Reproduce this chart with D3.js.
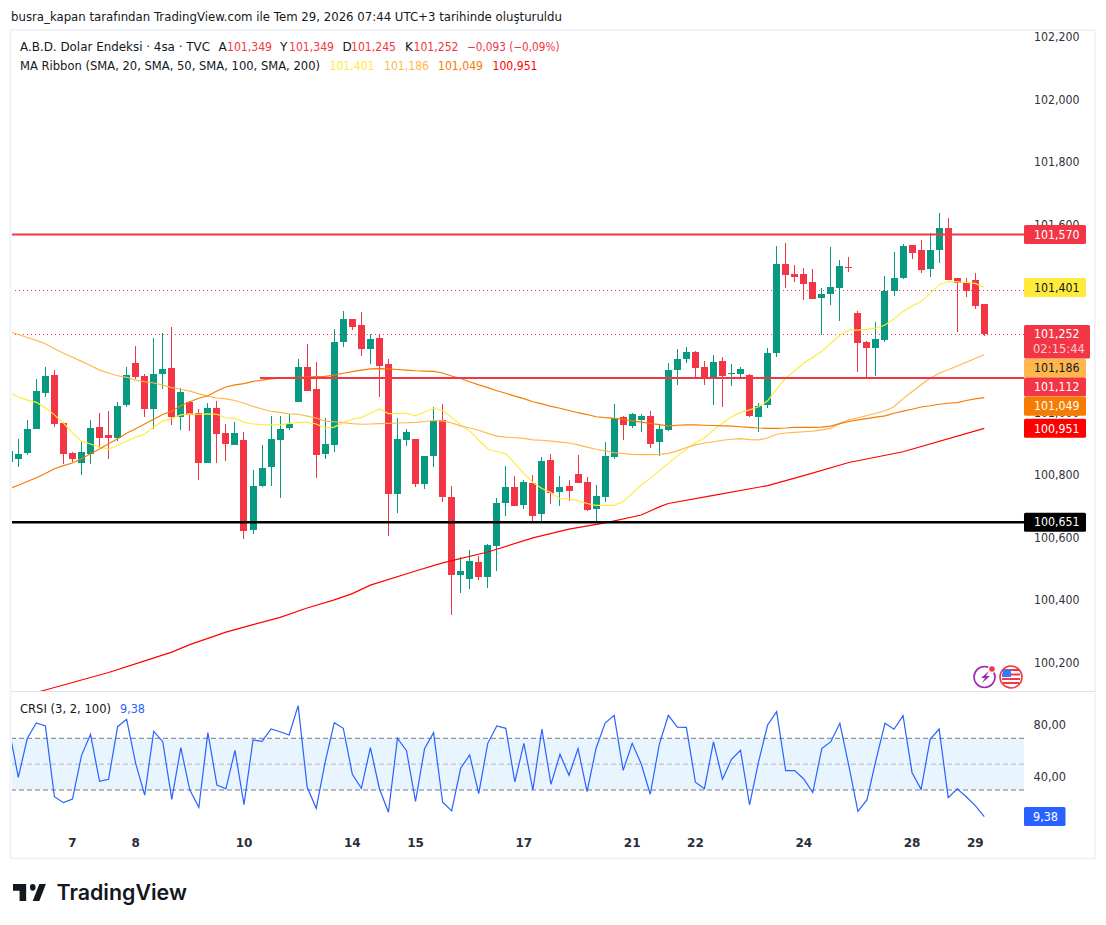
<!DOCTYPE html>
<html><head><meta charset="utf-8">
<script src="https://cdn.jsdelivr.net/npm/d3@7"></script>
<style>html,body{margin:0;padding:0;background:#fff}svg{display:block}text{font-family:"DejaVu Sans",sans-serif}</style>
</head><body><svg id="c" width="1106" height="925"></svg>
<script>
// Values are in thousandths of an index point (the axis prints 101,600 for 101.600)
const firstIndex=-1;
const opens=[100843,100853,100872,100949,101064,101121,100968,100872,100840,100869,100955,100930,100920,101025,101160,101118,101013,101125,101144,100987,101035,101000,100840,101016,100936,100898,100914,100626,100767,100827,100914,100952,101035,101147,101077,100869,100898,101227,101300,101281,101204,101240,101156,100741,100914,100917,100773,100863,100978,100732,100482,100470,100524,100476,100575,100712,100764,100706,100776,100677,100850,100748,100767,100805,100780,100693,100732,100859,100987,100958,100978,100990,100907,100946,101137,101173,101195,101147,101115,101166,101125,101125,101121,100987,101026,101192,101476,101444,101444,101419,101367,101380,101399,101467,101320,101227,101208,101233,101390,101431,101537,101521,101460,101521,101591,101431,101415,101425,101349];
const highs=[100885,100917,100978,101109,101147,101137,100971,100875,100907,100978,101000,101006,101035,101147,101214,101125,101240,101256,101275,101080,101038,101013,101032,101038,100965,100971,100939,100818,100898,100990,100990,100997,101172,101220,101163,100984,101268,101326,101300,101323,101252,101252,101172,100984,100949,100917,100863,101019,101029,100767,100540,100562,100543,100581,100728,100831,100799,100786,100802,100859,100869,100799,100786,100866,100795,100770,100907,101029,100990,101000,100997,101006,100962,101160,101205,101211,101198,101166,101185,101179,101157,101147,101125,101032,101208,101534,101543,101473,101463,101460,101399,101530,101489,101498,101326,101230,101291,101438,101514,101540,101537,101553,101575,101639,101623,101431,101431,101447,101349];
const lows=[100835,100827,100866,100949,101051,100955,100837,100842,100802,100837,100888,100853,100910,101019,101109,100987,100949,101077,100962,100946,100943,100786,100840,100840,100847,100898,100597,100613,100764,100767,100728,100946,101035,101070,100792,100853,100875,101211,101265,101182,101156,101051,100607,100680,100894,100764,100757,100827,100716,100355,100425,100438,100466,100441,100495,100671,100703,100693,100652,100648,100709,100703,100719,100776,100687,100652,100716,100853,100914,100952,100939,100888,100863,100943,101090,101160,101115,101090,101026,101019,101086,101109,100987,100939,101016,101179,101399,101419,101361,101364,101249,101345,101294,101451,101131,101115,101118,101227,101374,101428,101492,101447,101435,101479,101425,101259,101371,101332,101245];
const closes=[100879,100869,100949,101070,101118,100965,100869,100853,100875,100952,100920,100920,101022,101121,101115,101013,101125,101140,100987,101067,100994,100840,101016,100933,100901,100936,100623,100767,100824,100917,100949,100965,101147,101070,100866,100901,101227,101300,101275,101204,101236,101150,100741,100917,100939,100773,100863,100975,100732,100482,100495,100527,100476,100578,100712,100764,100703,100780,100671,100847,100744,100764,100751,100776,100690,100735,100863,100984,100962,100997,100990,100901,100949,101137,101173,101195,101144,101115,101163,101118,101128,101141,100990,101022,101192,101476,101441,101435,101412,101364,101380,101403,101470,101463,101224,101208,101236,101390,101431,101534,101511,101457,101521,101591,101425,101415,101390,101342,101252];
const ma20=[101065,101051,101041,101034,101017,100994,100968,100936,100910,100901,100891,100885,100896,100910,100923,100933,100955,100974,100982,100994,100997,100996,100997,100996,100984,100983,100970,100965,100963,100962,100962,100967,100970,100970,100965,100952,100955,100970,100980,100986,100999,101013,100998,100998,100999,100991,101003,101015,101008,100986,100962,100943,100913,100885,100877,100870,100839,100807,100778,100759,100746,100726,100726,100720,100711,100705,100705,100705,100717,100743,100770,100791,100816,100839,100863,100884,100905,100920,100946,100967,100988,101002,101010,101020,101039,101076,101111,101135,101159,101178,101197,101223,101249,101265,101265,101267,101271,101281,101300,101324,101342,101356,101382,101410,101421,101419,101417,101414,101401];
const ma50=[101261,101251,101241,101232,101221,101205,101191,101178,101165,101152,101137,101128,101119,101114,101105,101100,101096,101089,101081,101076,101070,101061,101054,101048,101045,101040,101031,101021,101013,101005,101002,100997,100996,100990,100984,100974,100972,100969,100966,100964,100965,100966,100967,100968,100969,100970,100973,100976,100975,100968,100959,100952,100945,100935,100926,100923,100921,100919,100914,100913,100910,100907,100904,100898,100891,100884,100879,100873,100870,100868,100867,100867,100868,100871,100879,100890,100898,100904,100908,100913,100916,100918,100915,100914,100920,100932,100936,100938,100940,100942,100946,100951,100967,100978,100985,100992,100999,101007,101020,101046,101068,101090,101111,101127,101138,101150,101162,101174,101186];
const ma100=[100758,100769,100781,100793,100807,100822,100832,100840,100854,100870,100885,100902,100918,100935,100950,100965,100980,100995,101006,101023,101036,101047,101055,101070,101083,101090,101094,101101,101105,101109,101111,101113,101114,101115,101116,101117,101121,101127,101132,101137,101141,101142,101141,101139,101137,101135,101134,101133,101128,101118,101110,101100,101090,101081,101071,101063,101054,101046,101036,101029,101021,101015,101008,101001,100995,100988,100985,100983,100980,100975,100971,100967,100963,100958,100961,100962,100962,100961,100960,100959,100958,100956,100954,100952,100951,100951,100952,100954,100954,100954,100955,100958,100966,100973,100978,100982,100987,100991,100999,101006,101012,101019,101023,101028,101031,101033,101040,101045,101049];
const ma200Index=[2,3,7,10,14,17,19,23,26,29,32,35,37,39,44,47,52,57,61,65,69,71,72,77,83,87,92,98,107];
const ma200=[100107,100115,100147,100171,100208,100236,100260,100300,100324,100347,100377,100403,100423,100450,100495,100521,100556,100601,100629,100649,100674,100700,100711,100737,100768,100800,100842,100876,100951];
const crsi=[76.4,39.8,70.0,81.8,79.5,24.8,20.2,23.0,56.6,73.1,36.7,38.3,79.0,84.7,50.6,26.1,75.4,67.4,22.8,62.8,30.0,16.6,74.4,33.9,31.0,60.7,18.7,68.7,67.7,77.2,75.1,72.6,95.3,32.1,15.8,52.0,82.1,77.7,42.2,31.3,62.8,31.0,12.8,70.0,60.4,21.2,62.0,74.4,20.5,13.8,46.8,57.1,27.2,66.1,79.5,77.7,36.2,66.1,30.0,77.2,34.4,57.6,41.4,62.0,28.7,62.3,81.8,87.8,45.2,66.1,50.1,26.7,65.3,87.8,78.7,78.5,36.0,31.0,67.2,38.3,53.7,60.7,18.4,52.0,80.3,90.6,45.0,45.0,38.5,28.0,62.0,67.4,81.6,48.6,13.5,22.3,53.2,81.6,77.0,87.5,43.4,30.5,69.2,77.2,24.1,31.0,24.8,17.9,9.38];
const priceTicks=[102200,102000,101800,101600,101000,100800,100600,100400,100200];
const crsiTicks=[80,40];
const crsiBands=[70,50,30];
const dateIndex=[6,13,25,37,44,56,68,75,87,99,106];
const dateLabels=["7","8","10","14","15","17","21","22","24","28","29"];
const ribbon=["101,401","101,186","101,049","100,951"];

const C={green:"#089981",red:"#F23645",y:"#FFEB3B",lo:"#FFB74D",o:"#F57C00",r:"#FF0000",blue:"#2962FF",text:"#131722",tick:"#2f333e",border:"#E0E3EB",frame:"#F0F3FA"};
const L=11,R=1024,RE=1095,T=31,PB=691,B=858;
const svg=d3.select("#c");
const fmt=d3.format(",");
const x=d3.scaleLinear().domain([firstIndex,107]).range([9.27,984.3]);
const y=d3.scaleLinear().domain([102000,100000]).range([100,726]);
const yc=d3.scaleLinear().domain([30,70]).range([790,738.3]);
// text squeezed to a width so it sits where the reference's wider-hinted font puts it
const txt=(p,xx,yy,s,w,c,o={})=>{const t=p.append("text").attr("x",xx).attr("y",yy).attr("font-size",o.size||12).attr("fill",c).text(s);
 if(w)t.attr("textLength",w).attr("lengthAdjust","spacingAndGlyphs");
 if(o.mid)t.attr("dy","0.35em");
 if(o.op)t.attr("fill-opacity",o.op);
 return t;};

// frame
svg.append("rect").attr("x",10.5).attr("y",30).attr("width",1084.5).attr("height",828.5).attr("fill","#fff").attr("stroke",C.frame).attr("stroke-width",2);
svg.append("line").attr("x1",L).attr("x2",RE).attr("y1",691.5).attr("y2",691.5).attr("stroke",C.border);
const defs=svg.append("defs");
defs.append("clipPath").attr("id","main").append("rect").attr("x",L+1).attr("y",T).attr("width",R-L-1).attr("height",PB-T);
defs.append("clipPath").attr("id","sub").append("rect").attr("x",L+1).attr("y",PB+1).attr("width",R-L-1).attr("height",B-PB-1);

// price axis labels (behind markers)
priceTicks.forEach(d=>txt(svg,1034,y(d)-.7,fmt(d),45.5,C.tick,{mid:1}));

const m=svg.append("g").attr("clip-path","url(#main)");
// dotted price lines
[101252,101392].forEach(v=>m.append("line").attr("x1",L).attr("x2",R).attr("y1",Math.round(y(v))+.5).attr("y2",Math.round(y(v))+.5)
 .attr("stroke",C.red).attr("stroke-width",1).attr("stroke-dasharray","1 3"));
// candles
const idx=d3.range(opens.length);
const g=m.append("g").attr("shape-rendering","crispEdges");
g.selectAll("rect.w").data(idx).join("rect").attr("class","w")
 .attr("x",i=>Math.floor(x(i+firstIndex))).attr("width",1)
 .attr("y",i=>y(highs[i])).attr("height",i=>y(lows[i])-y(highs[i]))
 .attr("fill",i=>closes[i]>=opens[i]?C.green:C.red);
g.selectAll("rect.b").data(idx).join("rect").attr("class","b")
 .attr("x",i=>Math.floor(x(i+firstIndex))-3).attr("width",7)
 .attr("y",i=>y(Math.max(opens[i],closes[i])))
 .attr("height",i=>Math.max(1,Math.abs(y(opens[i])-y(closes[i]))))
 .attr("fill",i=>closes[i]>=opens[i]?C.green:C.red);
// ribbons
const ln=d3.line().x(d=>x(d[0])).y(d=>y(d[1]));
const ser=a=>a.map((v,i)=>[i+firstIndex,v]);
[[ma20,C.y],[ma50,C.lo],[ma100,C.o]].forEach(([a,c])=>m.append("path").attr("d",ln(ser(a))).attr("fill","none").attr("stroke",c).attr("stroke-width",1.15));
m.append("path").attr("d",ln(ma200.map((v,i)=>[ma200Index[i],v]))).attr("fill","none").attr("stroke",C.r).attr("stroke-width",1.15);
// horizontal levels
m.append("line").attr("x1",L).attr("x2",R).attr("y1",y(101570)).attr("y2",y(101570)).attr("stroke",C.red).attr("stroke-width",2);
m.append("line").attr("x1",260).attr("x2",R).attr("y1",y(101112)).attr("y2",y(101112)).attr("stroke",C.red).attr("stroke-width",2);
m.append("line").attr("x1",L).attr("x2",R).attr("y1",y(100651)).attr("y2",y(100651)).attr("stroke","#000").attr("stroke-width",2.4);

// price markers
const marks=[[101570,"101,570",C.red,"#fff"],[101401,"101,401",C.y,C.text],[101186,"101,186",C.lo,C.text],[101112,"101,112",C.red,"#fff"],[101049,"101,049",C.o,"#fff"],[100951,"100,951",C.r,"#fff"],[100651,"100,651","#000","#fff"]];
marks.forEach(([v,t,bg,fg])=>{
 const cy=y(v)+(v===101186?13.5:v===101112?9:v===101049?8.5:0);
 svg.append("rect").attr("x",1024).attr("y",cy-9.5).attr("width",62).attr("height",19).attr("rx",1.5).attr("fill",bg);
 txt(svg,1034,cy,t,45.5,fg,{mid:1});
});
svg.append("rect").attr("x",1024).attr("y",325).attr("width",66).attr("height",33.5).attr("rx",1.5).attr("fill",C.red);
txt(svg,1034,334,fmt(closes[closes.length-1]),45.5,"#fff",{mid:1});
txt(svg,1033,348.5,"02:15:44",52,"#fff",{mid:1,op:.75});

// CRSI pane
const s=svg.append("g").attr("clip-path","url(#sub)");
s.append("rect").attr("x",L).attr("width",R-L).attr("y",yc(70)).attr("height",yc(30)-yc(70)).attr("fill","#2196F3").attr("fill-opacity",.1);
crsiBands.forEach(b=>s.append("line").attr("x1",L).attr("x2",R).attr("y1",yc(b)).attr("y2",yc(b)).attr("stroke","#787B86").attr("stroke-opacity",b===50?.5:1).attr("stroke-dasharray","5 3"));
s.append("path").attr("d",d3.line().x(d=>x(d[0])).y(d=>yc(d[1]))(ser(crsi))).attr("fill","none").attr("stroke",C.blue).attr("stroke-width",1.2);
crsiTicks.forEach(d=>txt(svg,1033.5,yc(d)-.6,d3.format(".2f")(d).replace(".",","),32.5,C.tick,{mid:1}));
svg.append("rect").attr("x",1024).attr("y",807).attr("width",41.5).attr("height",19).attr("rx",1.5).attr("fill",C.blue);
txt(svg,1033,816.5,String(crsi[crsi.length-1]).replace(".",","),25,"#fff",{mid:1});

// time axis
svg.append("g").selectAll("text").data(dateIndex).join("text")
 .attr("x",d=>x(d)).attr("y",843).attr("dy","0.35em").attr("text-anchor","middle").attr("font-size",12).attr("font-weight",600).attr("fill","#2a2e39")
 .text((d,i)=>dateLabels[i]);

// texts
txt(svg,11,21,"busra_kapan tarafından TradingView.com ile Tem 29, 2026 07:44 UTC+3 tarihinde oluşturuldu",551,C.text);
txt(svg,20,51,"A.B.D. Dolar Endeksi · 4sa · TVC",190,C.text);
[[218.5,"A",0],[227,"101,349",45],[280,"Y",0],[289,"101,349",45],[342.5,"D",0],[351,"101,245",45],[405,"K",0],[413.5,"101,252",45],[467,"−0,093 (−0,09%)",92.5]]
 .forEach(([px,t,w])=>txt(svg,px,51,t,w||null,w?C.red:C.text));
txt(svg,20,70,"MA Ribbon (SMA, 20, SMA, 50, SMA, 100, SMA, 200)",300,C.text);
[C.y,C.lo,C.o,C.r].forEach((c,i)=>txt(svg,[329.5,384,438,492.5][i],70,ribbon[i],45,c));
txt(svg,20,713,"CRSI (3, 2, 100)",91,C.text);
txt(svg,120,713,"9,38",25,C.blue);

// logo
const lg=svg.append("g").attr("transform","translate(13,877.2) scale(0.94,1.13)").attr("fill","#131722");
lg.append("path").attr("d","M14 6H0v6h7v9h7V6zm14 15h-7l7-15h7l-7 15zm-7-9a3 3 0 1 0 0-6 3 3 0 0 0 0 6z");
svg.append("text").attr("x",56.5).attr("y",900).attr("style","font-family:Inter,sans-serif").attr("font-size",21.4).attr("font-weight",600).attr("fill","#131722").text("TradingView");

// icons
const ic=svg.append("g");
ic.append("circle").attr("cx",984.5).attr("cy",677).attr("r",10.5).attr("fill","#fff").attr("stroke","#9C27B0").attr("stroke-width",1.6);
ic.append("path").attr("d","M989 671l-8 7h4l-3 5 8-7h-4z").attr("fill","#9C27B0");
ic.append("circle").attr("cx",992).attr("cy",669).attr("r",4).attr("fill","#fff");
ic.append("circle").attr("cx",992).attr("cy",669).attr("r",2.8).attr("fill",C.red);
ic.append("circle").attr("cx",1011).attr("cy",677).attr("r",11).attr("fill","#fff").attr("stroke",C.red).attr("stroke-width",1.6);
ic.append("path").attr("d","M1003 669h16v2h-16zM1002 673.5h18v2h-18zM1002 678h18v2h-18zM1003 682h16v2h-16z").attr("fill",C.red);
ic.append("path").attr("d","M1003 669.5h8v7.5h-9z").attr("fill","#2E7CF6");
</script></body></html>
